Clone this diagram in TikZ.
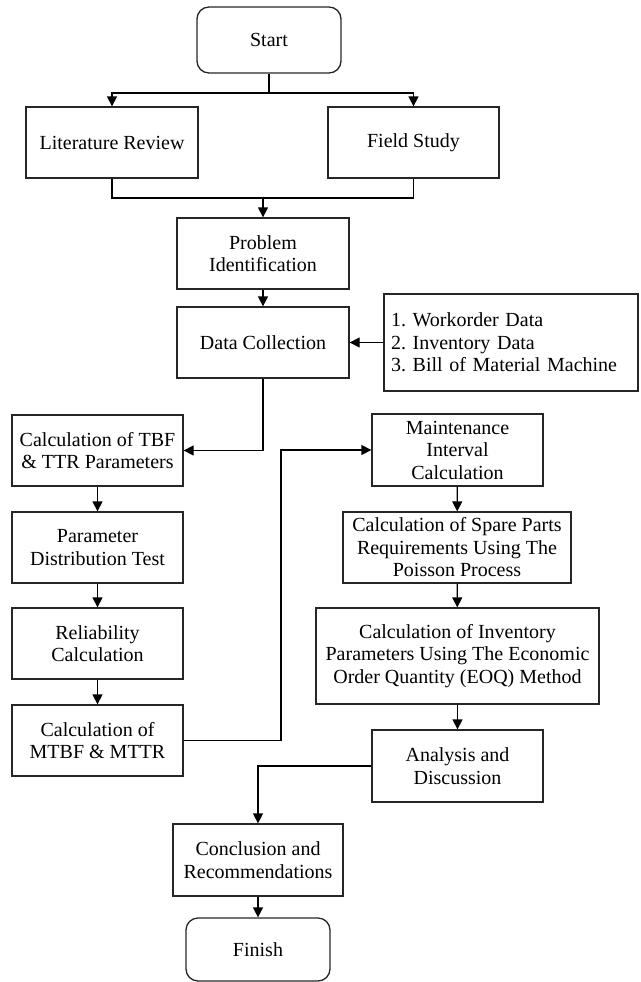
\documentclass[tikz,border=0pt]{standalone}
\usepackage{fontspec}
\setmainfont{Liberation Serif}
\usetikzlibrary{arrows.meta}
\frenchspacing

\begin{document}
\begin{tikzpicture}[x=1pt, y=-1pt,
    box/.style={draw=black!85, line width=1.3pt, align=center, inner sep=0pt,
      font=\fontsize{20}{22.5}\selectfont, minimum height=71pt},
    term/.style={box, rounded corners=12pt},
    arr/.style={line width=1.3pt, -{Triangle[width=10pt,length=10pt]}},
    line/.style={line width=1.3pt}]
    \useasboundingbox (0,0) rectangle (640,982);

    % Top part
    \node[term, minimum width=144pt, minimum height=66pt] (start) at (269,40) {Start};
    \node[box, minimum width=172pt] (lit) at (112,142.5) {Literature Review};
    \node[box, minimum width=171pt] (field) at (413.5,142.5) {Field Study};
    \node[box, minimum width=172pt] (prob) at (263,253.5) {Problem\\Identification};
    \node[box, minimum width=172pt] (data) at (263,342.5) {Data Collection};
    \node[box, minimum width=254pt, minimum height=97pt, text width=240pt,
      align=left] (list) at (511,342.5)
      {1. Workorder Data\\2. Inventory Data\\3. Bill of Material Machine};

    \coordinate (split) at (269,93);
    \coordinate (join) at (263,198);
    \draw[line] (start) -- (split);
    \draw[arr] (split) -| (lit);
    \draw[arr] (split) -| (field);
    \draw[line] (lit) |- (join);
    \draw[line] (field) |- (join);
    \draw[arr] (join) -- (prob);
    \draw[arr] (prob) -- (data);
    \draw[arr] (list) -- (data);

    % Left column
    \node[box, minimum width=171pt] (tbf) at (97.5,450.5) {Calculation of TBF\\\& TTR Parameters};
    \node[box, minimum width=171pt] (param) at (97.5,547.5) {Parameter\\Distribution Test};
    \node[box, minimum width=171pt] (rel) at (97.5,643.5) {Reliability\\Calculation};
    \node[box, minimum width=171pt] (mtbf) at (97.5,740.5) {Calculation of\\MTBF \& MTTR};

    \draw[arr] (data) |- (tbf);
    \draw[arr] (tbf) -- (param);
    \draw[arr] (param) -- (rel);
    \draw[arr] (rel) -- (mtbf);

    % Right column
    \node[box, minimum width=171pt, minimum height=72pt] (maint) at (457.5,450) {Maintenance\\Interval\\Calculation};
    \node[box, minimum width=228pt] (spare) at (457,547.5)
      {Calculation of Spare Parts\\Requirements Using The\\Poisson Process};
    \node[box, minimum width=283pt, minimum height=96pt] (inv) at (457.5,656)
      {Calculation of Inventory\\Parameters Using The Economic\\Order Quantity (EOQ) Method};
    \node[box, minimum width=171pt, minimum height=72pt] (anal) at (457.5,766) {Analysis and\\Discussion};

    \coordinate (mbend) at (281,740.5);
    \draw[arr] (mtbf) -- (mbend) |- (maint);
    \draw[arr] (maint) -- (spare);
    \draw[arr] (spare) -- (inv);
    \draw[arr] (inv) -- (anal);

    % Bottom
    \node[box, minimum width=170pt, minimum height=72pt] (concl) at (258,860) {Conclusion and\\Recommendations};
    \node[term, minimum width=144pt, minimum height=63pt] (finish) at (258,949.5) {Finish};

    \draw[arr] (anal) -| (concl);
    \draw[arr] (concl) -- (finish);
\end{tikzpicture}
\end{document}
